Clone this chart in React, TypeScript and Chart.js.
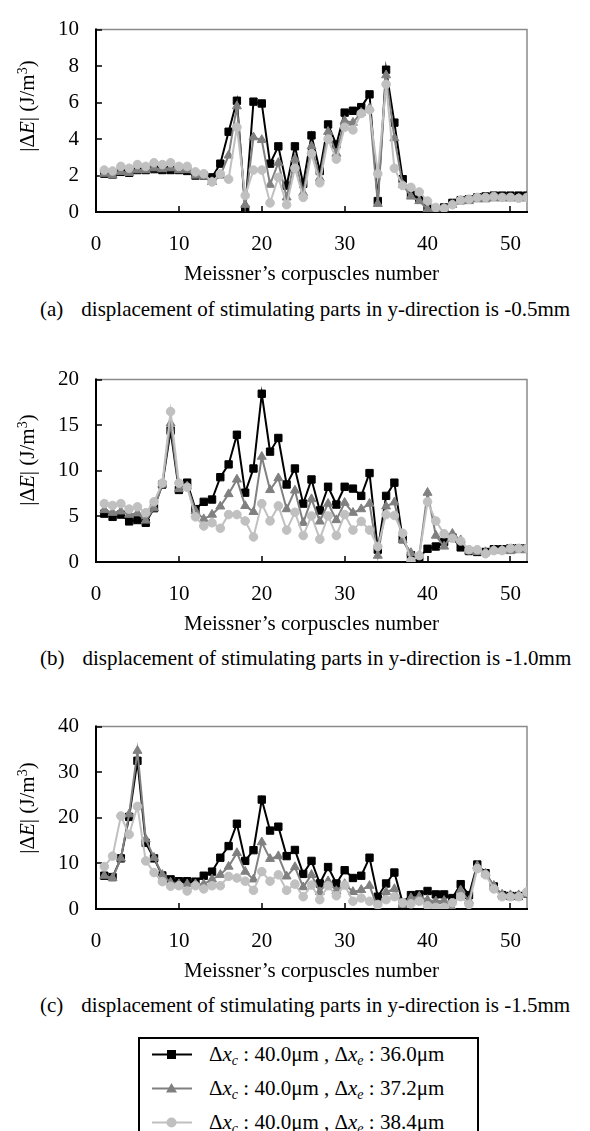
import React, { useEffect, useRef } from "react";
import { Chart, registerables } from "chart.js";
Chart.register(...registerables);

// ---------- data ----------
const corpuscles = [
  1, 2, 3, 4, 5, 6, 7, 8, 9, 10, 11, 12, 13, 14, 15, 16, 17, 18, 19, 20, 21, 22, 23, 24, 25, 26,
  27, 28, 29, 30, 31, 32, 33, 34, 35, 36, 37, 38, 39, 40, 41, 42, 43, 44, 45, 46, 47, 48, 49, 50, 51, 52,
];
const xTicks = [0, 10, 20, 30, 40, 50];

const seriesNames = [
  "Δxc : 40.0μm , Δxe : 36.0μm",
  "Δxc : 40.0μm , Δxe : 37.2μm",
  "Δxc : 40.0μm , Δxe : 38.4μm",
];

// (a) -0.5 mm
const a360 = [
  2.1, 2.05, 2.2, 2.15, 2.3, 2.3, 2.35, 2.3, 2.3, 2.3,
  2.25, 2.0, 2.0, 1.9, 2.65, 4.4, 6.1, 0.15, 6.05, 5.95,
  2.65, 3.6, 1.45, 3.6, 1.55, 4.2, 2.25, 4.8, 3.7, 5.45,
  5.55, 5.75, 6.45, 0.6, 7.8, 4.9, 1.8, 0.95, 0.7, 0.25,
  0.1, 0.25, 0.5, 0.65, 0.7, 0.8, 0.85, 0.9, 0.9, 0.9, 0.9, 0.9,
];
const a372 = [
  2.1, 2.0, 2.2, 2.15, 2.3, 2.3, 2.4, 2.35, 2.4, 2.3,
  2.3, 2.0, 1.95, 1.65, 2.0, 3.1, 5.8, 0.4, 4.1, 3.95,
  1.5, 2.7, 0.8, 2.9, 1.05, 3.6, 1.85, 4.4, 3.2, 5.0,
  4.9, 5.45, 5.7, 0.45, 7.5, 4.05, 1.5, 0.85, 0.6, 0.15,
  0.05, 0.2, 0.4, 0.6, 0.6, 0.7, 0.7, 0.75, 0.75, 0.75, 0.75, 0.75,
];
const a384 = [
  2.3, 2.25, 2.5, 2.4, 2.6, 2.5, 2.7, 2.6, 2.7, 2.5,
  2.5, 2.2, 2.1, 1.65, 2.1, 1.8, 4.65, 0.9, 2.3, 2.3,
  0.5, 1.9, 0.4, 2.4, 0.8, 3.2, 1.6, 4.0, 2.9, 4.65,
  4.5, 5.4, 5.6, 2.1, 7.0, 2.4, 1.45, 1.35, 1.1, 0.6,
  0.25, 0.2, 0.4, 0.65, 0.7, 0.8, 0.8, 0.85, 0.8, 0.8, 0.75, 0.8,
];

// (b) -1.0 mm
const b360 = [
  5.3, 4.95, 5.2, 4.45, 4.6, 4.3, 5.9, 8.5, 14.4, 7.9,
  8.7, 5.8, 6.6, 6.85, 9.3, 10.7, 13.95, 7.6, 10.25, 18.45,
  12.1, 13.6, 8.5, 10.25, 6.4, 9.05, 5.65, 8.25, 6.3, 8.25,
  8.05, 7.25, 9.75, 1.35, 7.25, 8.7, 2.5, 0.75, 0.5, 1.45,
  1.7, 2.2, 2.7, 1.6, 1.2, 1.1, 1.1, 1.4, 1.4, 1.5, 1.5, 1.5,
];
const b372 = [
  5.7, 5.4, 5.55, 5.2, 5.35, 4.55, 5.9, 8.5, 15.2, 8.0,
  8.3, 5.6, 4.7, 5.2, 6.1, 7.45, 9.05, 6.15, 5.5, 11.55,
  7.9, 9.2, 5.8, 7.85, 4.3, 6.9, 4.45, 6.4, 4.6, 6.5,
  5.4, 5.8, 6.4, 0.7, 6.1, 6.55, 2.4, 1.0, 0.7, 7.6,
  2.9, 1.7, 3.1, 2.4, 1.2, 1.1, 1.1, 1.3, 1.3, 1.2, 1.3, 1.3,
];
const b384 = [
  6.4, 6.2, 6.4, 5.8, 6.05, 5.4, 6.6, 8.65, 16.5, 8.65,
  8.2, 4.95, 3.95, 4.3, 3.7, 5.2, 5.2, 4.5, 2.75, 6.4,
  4.5, 6.15, 3.5, 5.45, 2.9, 5.05, 2.5, 5.05, 2.9, 5.2,
  3.5, 4.45, 3.5, 1.7, 5.2, 5.1, 3.15, 0.1, 0.7, 6.6,
  4.5, 3.1, 2.6, 2.3, 1.35, 1.35, 0.9, 1.25, 1.25, 1.5, 1.5, 1.5,
];

// (c) -1.5 mm
const c360 = [
  7.3, 7.0, 11.1, 20.2, 32.5, 14.5, 11.1, 7.35, 6.5, 6.1,
  6.1, 6.0, 7.3, 8.2, 11.25, 13.8, 18.7, 10.55, 12.9, 24.0,
  17.2, 18.05, 11.6, 12.95, 7.7, 10.55, 5.6, 9.2, 5.6, 8.5,
  6.8, 7.3, 11.25, 2.7, 5.6, 8.0, 1.35, 3.05, 3.2, 3.95,
  3.2, 3.2, 2.4, 5.45, 3.05, 9.75, 7.85, 4.95, 3.05, 2.85, 2.85, 3.4,
];
const c372 = [
  7.3, 6.8, 11.1, 20.8, 34.7, 15.3, 11.25, 7.5, 5.8, 5.45,
  5.45, 5.45, 5.45, 6.5, 7.5, 9.3, 12.3, 8.2, 6.5, 14.65,
  11.0, 11.6, 7.15, 9.2, 4.8, 7.5, 3.75, 6.1, 3.95, 5.5,
  3.75, 4.2, 5.1, 0.15, 3.75, 4.4, 0.9, 2.4, 2.7, 2.0,
  1.7, 1.8, 0.0, 4.1, 1.8, 9.5, 7.8, 5.1, 3.2, 3.05, 3.05, 3.2,
];
const c384 = [
  9.3, 11.6, 20.4, 16.35, 22.5, 10.55, 8.0, 6.0, 5.0, 5.1,
  3.95, 5.1, 4.4, 5.1, 5.1, 7.15, 6.8, 6.1, 4.1, 8.2,
  6.1, 7.5, 4.1, 5.45, 2.7, 5.25, 2.05, 5.1, 2.9, 5.25,
  1.7, 2.4, 1.7, 1.0, 2.05, 2.7, 1.35, 1.15, 1.7, 0.7,
  0.35, 0.35, 1.35, 2.7, 1.0, 8.85, 7.5, 4.4, 2.7, 2.7, 2.7, 3.75,
];

const yTicksA = [0, 2, 4, 6, 8, 10];
const yTicksB = [0, 5, 10, 15, 20];
const yTicksC = [0, 10, 20, 30, 40];

const captions = [
  "displacement of stimulating parts in y-direction is -0.5mm",
  "displacement of stimulating parts in y-direction is -1.0mm",
  "displacement of stimulating parts in y-direction is -1.5mm",
];

// ---------- styling ----------
const FONT = '"Liberation Serif", "Times New Roman", serif';
const FS = 21;
const COLORS = ["#000000", "#808080", "#c0c0c0"];
const STYLES = ["rect", "triangle", "circle"];
const RADII = [5.2, 5.2, 4.3];

const CANVAS_W = 590;
const CANVAS_H = 287;

const framePlugin = {
  id: "frame",
  beforeDatasetsDraw(chart: any) {
    const { ctx, chartArea, scales } = chart;
    const { left, right, top, bottom } = chartArea;
    ctx.save();
    ctx.lineCap = "square";
    ctx.strokeStyle = "#8a8a8a";
    ctx.lineWidth = 1.5;
    ctx.beginPath();
    ctx.moveTo(left, top);
    ctx.lineTo(right, top);
    ctx.lineTo(right, bottom);
    ctx.stroke();
    ctx.strokeStyle = "#000";
    ctx.lineWidth = 2;
    ctx.beginPath();
    ctx.moveTo(left, top);
    ctx.lineTo(left, bottom);
    ctx.lineTo(right, bottom);
    ctx.stroke();
    ctx.lineWidth = 1.5;
    ctx.lineCap = "butt";
    ctx.beginPath();
    scales.y.ticks.forEach((t: any) => {
      const y = Math.round(scales.y.getPixelForValue(t.value));
      ctx.moveTo(left, y);
      ctx.lineTo(left + 6, y);
    });
    scales.x.ticks.forEach((t: any) => {
      const x = Math.round(scales.x.getPixelForValue(t.value));
      ctx.moveTo(x, bottom);
      ctx.lineTo(x, bottom - 6);
    });
    ctx.stroke();
    ctx.restore();
  },
};

function Panel(props: { top: number; yTicks: number[]; series: number[][] }) {
  const ref = useRef<HTMLCanvasElement | null>(null);
  useEffect(() => {
    if (!ref.current) return;
    const yMax = props.yTicks[props.yTicks.length - 1];
    const chart = new Chart(ref.current, {
      type: "line",
      data: {
        datasets: props.series.map((vals, k) => ({
          label: seriesNames[k],
          data: corpuscles.map((x, i) => ({ x, y: vals[i] })),
          borderColor: COLORS[k],
          backgroundColor: COLORS[k],
          pointBackgroundColor: COLORS[k],
          pointBorderColor: COLORS[k],
          pointStyle: STYLES[k] as any,
          pointRadius: RADII[k],
          pointBorderWidth: 1,
          borderWidth: 2,
          tension: 0,
          order: 3 - k,
        })),
      },
      options: {
        responsive: false,
        animation: false,
        devicePixelRatio: 1,
        layout: { padding: { top: 15, right: 63, left: 0, bottom: 0 } },
        plugins: { legend: { display: false }, tooltip: { enabled: false } },
        scales: {
          x: {
            type: "linear",
            min: 0,
            max: 52,
            grid: { display: false, drawTicks: false },
            border: { display: false },
            afterBuildTicks: (s: any) => {
              s.ticks = xTicks.map((v) => ({ value: v }));
            },
            afterFit: (s: any) => {
              s.height = 75;
            },
            ticks: {
              padding: 20,
              color: "#000",
              font: { family: FONT, size: FS },
              maxRotation: 0,
              autoSkip: false,
            },
            title: {
              display: true,
              text: "Meissner’s corpuscles number",
              color: "#000",
              font: { family: FONT, size: FS, lineHeight: 1.2 },
              padding: 0,
            },
          },
          y: {
            type: "linear",
            min: 0,
            max: yMax,
            grid: { display: false, drawTicks: false },
            border: { display: false },
            afterBuildTicks: (s: any) => {
              s.ticks = props.yTicks.map((v) => ({ value: v }));
            },
            afterFit: (s: any) => {
              s.width = 96;
            },
            ticks: {
              padding: 17,
              color: "#000",
              font: { family: FONT, size: FS },
              autoSkip: false,
            },
          },
        },
      },
      plugins: [framePlugin],
    } as any);
    return () => chart.destroy();
  }, []);
  return (
    <canvas
      ref={ref}
      width={CANVAS_W}
      height={CANVAS_H}
      style={{ position: "absolute", left: 0, top: props.top, width: CANVAS_W, height: CANVAS_H, display: "block" }}
    />
  );
}

function YTitle(props: { cy: number }) {
  return (
    <div
      style={{
        position: "absolute",
        left: 27,
        top: props.cy,
        transform: "translate(-50%, -50%) rotate(-90deg)",
        whiteSpace: "nowrap",
        fontFamily: FONT,
        fontSize: FS,
        lineHeight: "24px",
        color: "#000",
      }}
    >
      |Δ<i>E</i>| (J/m<sup style={{ fontSize: 14, verticalAlign: 7, lineHeight: 0 }}>3</sup>)
    </div>
  );
}

function Caption(props: { cy: number; tag: string; text: string }) {
  return (
    <div
      style={{
        position: "absolute",
        left: 40,
        top: props.cy - 12,
        whiteSpace: "nowrap",
        fontFamily: FONT,
        fontSize: FS,
        lineHeight: "24px",
        color: "#000",
      }}
    >
      <span>{props.tag}</span>
      <span style={{ marginLeft: 18 }}>{props.text}</span>
    </div>
  );
}

function Marker(props: { k: number }) {
  const c = COLORS[props.k];
  let shape: any = null;
  if (props.k === 0) shape = <rect x={15} y={4} width={9} height={9} fill={c} />;
  else if (props.k === 1) shape = <polygon points="19.5,3 25,12.5 14,12.5" fill={c} />;
  else shape = <circle cx={19.5} cy={8.5} r={5} fill={c} />;
  return (
    <svg width={40} height={17} style={{ position: "absolute", left: 0, top: -8.5 }}>
      <line x1={0} y1={8.5} x2={40} y2={8.5} stroke={c} strokeWidth={2} />
      {shape}
    </svg>
  );
}

function LegendRow(props: { k: number; cy: number; xe: string }) {
  const sub = { fontSize: 14, verticalAlign: -4, lineHeight: 0 } as any;
  return (
    <div style={{ position: "absolute", left: 152, top: props.cy, width: 320, height: 0 }}>
      <Marker k={props.k} />
      <div
        style={{
          position: "absolute",
          left: 57,
          top: -12,
          whiteSpace: "nowrap",
          fontFamily: FONT,
          fontSize: FS,
          lineHeight: "24px",
          color: "#000",
        }}
      >
        Δ<i>x</i>
        <sub style={sub}>
          <i>c</i>
        </sub>{" "}
        : 40.0μm , Δ<i>x</i>
        <sub style={sub}>
          <i>e</i>
        </sub>{" "}
        : {props.xe}
      </div>
    </div>
  );
}

export default function App() {
  return (
    <div
      style={{
        position: "absolute",
        left: 0,
        top: 0,
        width: 590,
        height: 1131,
        overflow: "hidden",
        background: "#fff",
      }}
    >
      <Panel top={0} yTicks={yTicksA} series={[a360, a372, a384]} />
      <Panel top={350} yTicks={yTicksB} series={[b360, b372, b384]} />
      <Panel top={697} yTicks={yTicksC} series={[c360, c372, c384]} />
      <YTitle cy={106} />
      <YTitle cy={460} />
      <YTitle cy={808} />
      <Caption cy={309} tag="(a)" text={captions[0]} />
      <Caption cy={658} tag="(b)" text={captions[1]} />
      <Caption cy={1005} tag="(c)" text={captions[2]} />
      <div
        style={{
          position: "absolute",
          left: 138,
          top: 1037,
          width: 341,
          height: 110,
          boxSizing: "border-box",
          border: "2px solid #000",
        }}
      />
      <LegendRow k={0} cy={1054} xe="36.0μm" />
      <LegendRow k={1} cy={1088} xe="37.2μm" />
      <LegendRow k={2} cy={1122} xe="38.4μm" />
    </div>
  );
}
